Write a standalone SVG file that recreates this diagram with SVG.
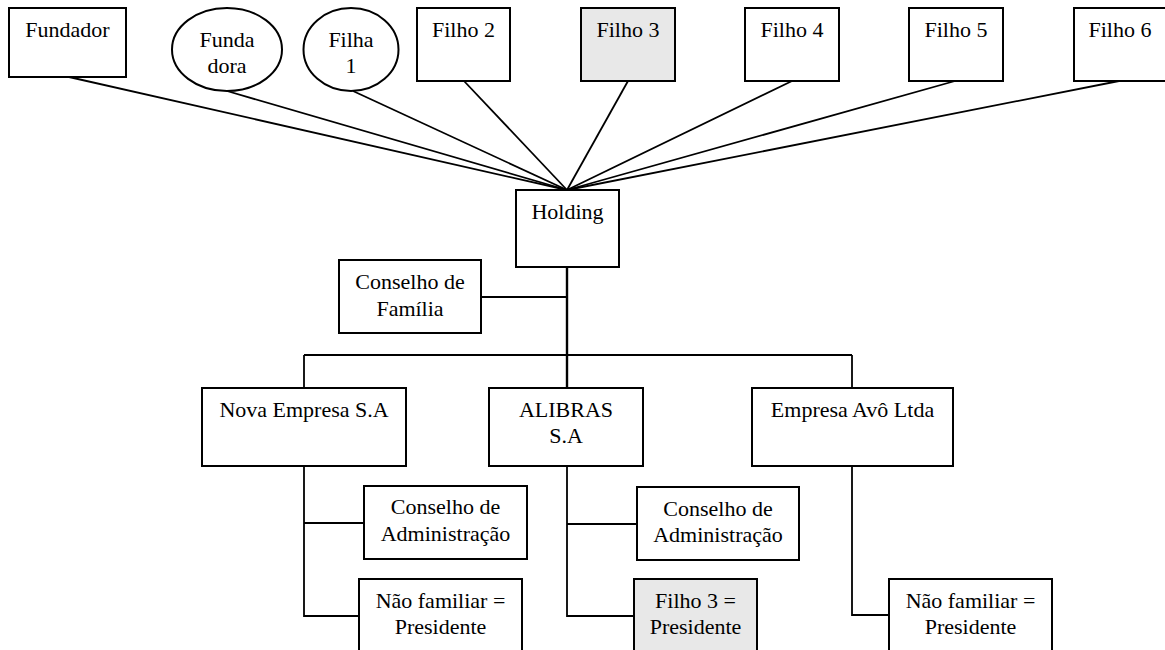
<svg xmlns="http://www.w3.org/2000/svg" width="1165" height="650" viewBox="0 0 1165 650">
<rect width="1165" height="650" fill="#fff"/>
<g id="connectors" stroke="#000" stroke-width="1.8" fill="none">
<line x1="69" y1="77" x2="567" y2="190"/>
<line x1="227" y1="91" x2="567" y2="190"/>
<line x1="353" y1="91" x2="567" y2="190"/>
<line x1="464" y1="81" x2="567" y2="190"/>
<line x1="628" y1="81" x2="567" y2="190"/>
<line x1="792" y1="81" x2="567" y2="190"/>
<line x1="955" y1="81" x2="567" y2="190"/>
<line x1="1119" y1="81" x2="567" y2="190"/>
<line x1="567" y1="267" x2="567" y2="388" stroke-width="2.4"/>
<line x1="481" y1="297" x2="567" y2="297"/>
<line x1="304" y1="355" x2="852" y2="355"/>
<line x1="304" y1="355" x2="304" y2="388"/>
<line x1="852" y1="355" x2="852" y2="388"/>
<path d="M304 466V616H359M304 523H364"/>
<path d="M567 466V616H634M567 524H637"/>
<path d="M852 466V615H889"/>
</g>
<g id="nodes" stroke="#000" stroke-width="2" fill="#fff">
<g id="fundador"><rect x="9" y="8" width="117" height="69"/></g>
<g id="fundadora"><ellipse cx="227" cy="49.5" rx="55" ry="41.5"/></g>
<g id="filha1"><ellipse cx="351" cy="49.5" rx="47.5" ry="41.5"/></g>
<g id="filho2"><rect x="417" y="8" width="93" height="73"/></g>
<g id="filho3"><rect x="581" y="8" width="94" height="73" fill="#e8e8e8"/></g>
<g id="filho4"><rect x="745" y="8" width="94" height="73"/></g>
<g id="filho5"><rect x="909" y="8" width="94" height="73"/></g>
<g id="filho6"><rect x="1074" y="8" width="93" height="73"/></g>
<g id="holding"><rect x="516" y="190" width="103" height="77"/></g>
<g id="conselho-familia"><rect x="339" y="260" width="142" height="73"/></g>
<g id="nova-empresa"><rect x="202" y="388" width="204" height="78"/></g>
<g id="alibras"><rect x="489" y="388" width="154" height="78"/></g>
<g id="empresa-avo"><rect x="752" y="388" width="201" height="78"/></g>
<g id="conselho-adm-nova"><rect x="364" y="486" width="163" height="73"/></g>
<g id="presidente-nova"><rect x="359" y="579" width="163" height="80"/></g>
<g id="conselho-adm-alibras"><rect x="637" y="487" width="162" height="73"/></g>
<g id="presidente-alibras"><rect x="634" y="579" width="123" height="80" fill="#e8e8e8"/></g>
<g id="presidente-avo"><rect x="889" y="579" width="163" height="80"/></g>
</g>
<g id="labels" font-size="22" text-anchor="middle" fill="#000">
<text font-family="Liberation Serif" x="67.5" y="37">Fundador</text>
<text font-family="Liberation Serif" x="227" y="47">Funda</text>
<text font-family="Liberation Serif" x="227" y="73">dora</text>
<text font-family="Liberation Serif" x="351" y="47">Filha</text>
<text font-family="Liberation Serif" x="351" y="73">1</text>
<text font-family="Liberation Serif" x="463.5" y="37">Filho 2</text>
<text font-family="Liberation Serif" x="628" y="37">Filho 3</text>
<text font-family="Liberation Serif" x="792" y="37">Filho 4</text>
<text font-family="Liberation Serif" x="956" y="37">Filho 5</text>
<text font-family="Liberation Serif" x="1120" y="37">Filho 6</text>
<text font-family="Liberation Serif" x="567.5" y="219">Holding</text>
<text font-family="Liberation Serif" x="410" y="289">Conselho de</text>
<text font-family="Liberation Serif" x="410" y="316">Família</text>
<text font-family="Liberation Serif" x="304" y="417">Nova Empresa S.A</text>
<text font-family="Liberation Serif" x="566" y="417">ALIBRAS</text>
<text font-family="Liberation Serif" x="566" y="443">S.A</text>
<text font-family="Liberation Serif" x="852.5" y="417">Empresa Avô Ltda</text>
<text font-family="Liberation Serif" x="445.5" y="514">Conselho de</text>
<text font-family="Liberation Serif" x="445.5" y="541">Administração</text>
<text font-family="Liberation Serif" x="440.5" y="608">Não familiar =</text>
<text font-family="Liberation Serif" x="440.5" y="634">Presidente</text>
<text font-family="Liberation Serif" x="718" y="516">Conselho de</text>
<text font-family="Liberation Serif" x="718" y="542">Administração</text>
<text font-family="Liberation Serif" x="695.5" y="608">Filho 3 =</text>
<text font-family="Liberation Serif" x="695.5" y="634">Presidente</text>
<text font-family="Liberation Serif" x="970.5" y="608">Não familiar =</text>
<text font-family="Liberation Serif" x="970.5" y="634">Presidente</text>
</g>
</svg>
